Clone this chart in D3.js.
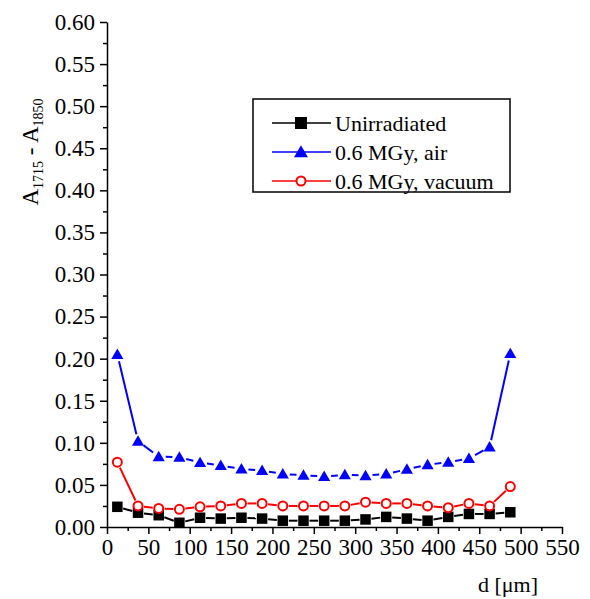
<html>
<head>
  <script src="https://d3js.org/d3.v7.min.js"></script>
  <style>
    body { margin: 0; background: #fff; }
    text { font-family: "Liberation Serif", "Times New Roman", serif; }
  </style>
</head>
<body>
<script>
// depth positions (um) and absorbance differences
var depth = [12.5, 37.5, 62.5, 87.5, 112.5, 137.5, 162.5, 187.5, 212.5, 237.5,
             262.5, 287.5, 312.5, 337.5, 362.5, 387.5, 412.5, 437.5, 462.5, 487.5];
var unirradiated = [0.024, 0.017, 0.014, 0.005, 0.011, 0.010, 0.011, 0.010, 0.0075, 0.0075,
                    0.0075, 0.0075, 0.009, 0.012, 0.010, 0.0075, 0.012, 0.0155, 0.0155, 0.0175];
var air = [0.205, 0.102, 0.0835, 0.083, 0.0765, 0.073, 0.069, 0.067, 0.063, 0.0615,
           0.060, 0.062, 0.061, 0.063, 0.0685, 0.074, 0.077, 0.0815, 0.095, 0.206];
var vacuum = [0.077, 0.025, 0.022, 0.021, 0.024, 0.025, 0.028, 0.028, 0.025, 0.025,
              0.025, 0.025, 0.0295, 0.028, 0.028, 0.025, 0.023, 0.028, 0.025, 0.048];
var legendNames = ["Unirradiated", "0.6 MGy, air", "0.6 MGy, vacuum"];
var xTicks = d3.range(0, 551, 50);
var yTicks = d3.range(0, 0.601, 0.05);

var width = 590, height = 599;
var plotLeft = 107, plotTop = 22, plotRight = 562, plotBottom = 527;

var svg = d3.select("body").append("svg")
    .attr("width", width)
    .attr("height", height);

var x = d3.scaleLinear().domain([0, 550]).range([plotLeft, plotRight]);
var y = d3.scaleLinear().domain([0, 0.6]).range([plotBottom, plotTop]);

// minor ticks first, then major axes on top
svg.append("g")
   .attr("transform", "translate(0," + plotBottom + ")")
   .call(d3.axisBottom(x).tickValues(d3.range(25, 550, 50)).tickSize(4).tickFormat(""))
   .call(function(g){ g.select(".domain").remove(); });
svg.append("g")
   .attr("transform", "translate(" + plotLeft + ",0)")
   .call(d3.axisLeft(y).tickValues(d3.range(0.025, 0.6, 0.05)).tickSize(4).tickFormat(""))
   .call(function(g){ g.select(".domain").remove(); });

svg.append("g")
   .attr("transform", "translate(0," + plotBottom + ")")
   .call(d3.axisBottom(x).tickValues(xTicks).tickSize(7).tickSizeOuter(0).tickPadding(5).tickFormat(d3.format("d")));
svg.append("g")
   .attr("transform", "translate(" + plotLeft + ",0)")
   .call(d3.axisLeft(y).tickValues(yTicks).tickSize(7).tickSizeOuter(0).tickPadding(5).tickFormat(d3.format(".2f")));

svg.selectAll(".tick line, .domain").attr("stroke", "#000").attr("stroke-width", 1.5);
svg.selectAll(".tick text")
   .attr("fill", "#000")
   .style("font-family", "Liberation Serif, Times New Roman, serif")
   .style("font-size", "23px");

// axis titles
svg.append("text")
   .attr("x", 508).attr("y", 592)
   .attr("text-anchor", "middle")
   .style("font-size", "22px")
   .text("d [\u03bcm]");

var ylab = svg.append("text")
   .attr("transform", "translate(38,152) rotate(-90)")
   .attr("text-anchor", "middle")
   .style("font-size", "23px");
ylab.append("tspan").text("A");
ylab.append("tspan").attr("dy", 5).style("font-size", "14px").text("1715");
ylab.append("tspan").attr("dy", -5).text(" - A");
ylab.append("tspan").attr("dy", 5).style("font-size", "14px").text("1850");

// series
var series = [
  {name: legendNames[0], values: unirradiated, color: "#000000", shape: "square", gap: 6},
  {name: legendNames[1], values: air, color: "#0000ff", shape: "triangle", gap: 7},
  {name: legendNames[2], values: vacuum, color: "#ff0000", shape: "circle", gap: 6}
];

function drawMarker(g, shape, color, cx, cy, s) {
  if (shape == "square") {
    g.append("rect").attr("x", cx - s/2).attr("y", cy - s/2)
     .attr("width", s).attr("height", s).attr("fill", color);
  } else if (shape == "triangle") {
    var h = s * 0.95;
    g.append("path")
     .attr("d", "M" + cx + "," + (cy - h*0.6) + "L" + (cx + s*0.58) + "," + (cy + h*0.45) +
                "L" + (cx - s*0.58) + "," + (cy + h*0.45) + "Z")
     .attr("fill", color);
  } else {
    g.append("circle").attr("cx", cx).attr("cy", cy).attr("r", s/2 - 1)
     .attr("fill", "#fff").attr("stroke", color).attr("stroke-width", 2);
  }
}

series.forEach(function(s) {
  var g = svg.append("g");
  // line segments with a small gap around each symbol
  for (var i = 0; i < depth.length - 1; i++) {
    var x1 = x(depth[i]), y1 = y(s.values[i]), x2 = x(depth[i+1]), y2 = y(s.values[i+1]);
    var len = Math.sqrt((x2-x1)*(x2-x1) + (y2-y1)*(y2-y1));
    if (len <= 2 * s.gap) continue;
    var ux = (x2-x1)/len, uy = (y2-y1)/len;
    g.append("line")
     .attr("x1", x1 + ux*s.gap).attr("y1", y1 + uy*s.gap)
     .attr("x2", x2 - ux*s.gap).attr("y2", y2 - uy*s.gap)
     .attr("stroke", s.color).attr("stroke-width", 2);
  }
  depth.forEach(function(d, i) {
    drawMarker(g, s.shape, s.color, x(d), y(s.values[i]), s.shape == "circle" ? 11 : 10.5);
  });
});

// legend
var leg = svg.append("g");
leg.append("rect")
   .attr("x", 253).attr("y", 99).attr("width", 257).attr("height", 93)
   .attr("fill", "#fff").attr("stroke", "#000").attr("stroke-width", 1.5);
series.forEach(function(s, i) {
  var ly = 123 + i * 29;
  leg.append("line").attr("x1", 272).attr("x2", 331).attr("y1", ly).attr("y2", ly)
     .attr("stroke", s.color).attr("stroke-width", 1.5);
  drawMarker(leg, s.shape, s.color, 301, ly, s.shape == "circle" ? 11 : 12);
  leg.append("text").attr("x", 335).attr("y", ly + 7.5)
     .style("font-size", "22px").text(s.name);
});
</script>
</body>
</html>
